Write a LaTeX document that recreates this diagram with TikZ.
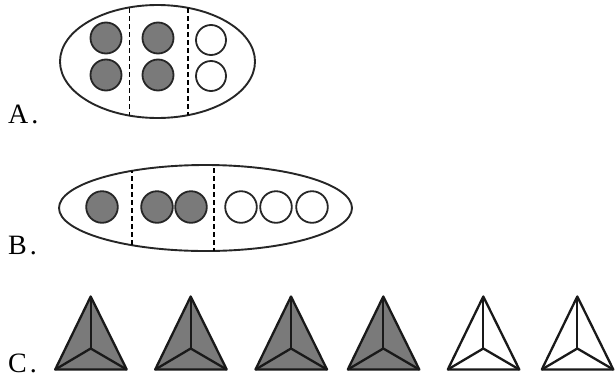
\documentclass[tikz,border=0pt]{standalone}
\usepackage{fontspec}
\setmainfont{Liberation Serif}
\begin{document}
\begin{tikzpicture}[x=1pt,y=-1pt,
  outline/.style={draw=black!85,line width=1.9pt},
  divider/.style={draw=black,line width=1.6pt,dash pattern=on 5pt off 3pt},
  ball/.style={draw=black!85,line width=1.8pt},
  tetra/.style={draw=black!90,line width=2.3pt,line join=round},
  lbl/.style={anchor=base west,inner sep=0pt,font=\fontsize{28}{30}\selectfont}]
\useasboundingbox (0,0) rectangle (615,378);
% labels
\node[lbl] (la) at (8,123) {A\kern3pt.};
\node[lbl] (lb) at (8,254) {B\kern3pt.};
\node[lbl] (lc) at (8,372) {C\kern3pt.};
% ---- A ----
\draw[outline] (157.5,61.5) ellipse [x radius=97.5, y radius=56.5];
\begin{scope}
  \clip (157.5,61.5) ellipse [x radius=97.5, y radius=56.5];
  \draw[divider] (129.5,0) -- (129.5,125);
  \draw[divider] (188,0) -- (188,125);
\end{scope}
\foreach \x/\y in {106/38,158/38,106/75,158/75}
  \draw[ball,fill=black!52] (\x,\y) circle [radius=15.5];
\foreach \x/\y in {211/40,211/76}
  \draw[ball,fill=white] (\x,\y) circle [radius=15];
% ---- B ----
\draw[outline] (205.5,208) ellipse [x radius=146.5, y radius=43];
\begin{scope}
  \clip (205.5,208) ellipse [x radius=146.5, y radius=43];
  \draw[divider] (132,160) -- (132,260);
  \draw[divider] (214,160) -- (214,260);
\end{scope}
\foreach \x in {102,157,191}
  \draw[ball,fill=black!52] (\x,207) circle [radius=15.8];
\foreach \x in {241,276,312}
  \draw[ball,fill=white] (\x,207) circle [radius=15.8];
% ---- C ----
\foreach \x/\f in {90.7/black!52,190.7/black!52,291/black!52,383.3/black!52,483.3/white,577.3/white}{
  \draw[tetra,fill=\f] (\x,296.5) -- (\x+36,369.5) -- (\x-35.5,369.5) -- cycle;
  \draw[tetra] (\x,296.5) -- (\x,348.5);
  \draw[tetra] (\x-35.5,369.5) -- (\x,348.5) -- (\x+36,369.5);
}
\end{tikzpicture}
\end{document}
